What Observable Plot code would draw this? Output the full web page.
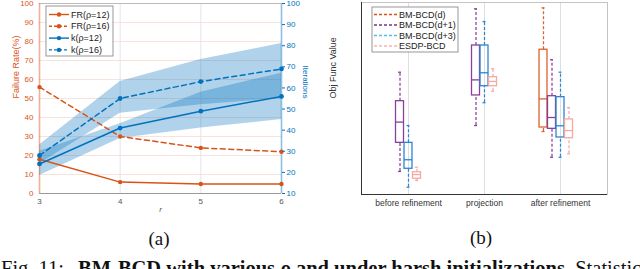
<!DOCTYPE html>
<html><head><meta charset="utf-8">
<script src="https://cdn.jsdelivr.net/npm/d3@7"></script>
<script src="https://cdn.jsdelivr.net/npm/@observablehq/plot@0.6"></script>
<style>
html,body{margin:0;padding:0;background:#fff;}
#root{position:relative;width:640px;height:269px;overflow:hidden;background:#fff;}
.panel{position:absolute;top:0;}
.sub{position:absolute;width:60px;text-align:center;font-family:"Liberation Serif","Times New Roman",serif;font-size:19px;line-height:19px;color:#111;}
#caption{position:absolute;left:1px;top:258px;white-space:nowrap;font-family:"Liberation Serif","Times New Roman",serif;font-size:20.5px;line-height:20px;color:#111;}
#caption .lead{margin-right:14px;}
.legend{position:absolute;left:0;top:0;overflow:visible;}
</style></head><body>
<div id="root">
  <div id="pa" class="panel" style="left:0"></div>
  <div id="pb" class="panel" style="left:320px"></div>
  <div class="sub" style="left:129px;top:229px">(a)</div>
  <div class="sub" style="left:451px;top:228px">(b)</div>
  <div id="caption"><span class="lead">Fig. 11:</span><b>BM-BCD with various <i>ρ</i> and under harsh initializations.</b> Statistics of the objective</div>
</div>
<script>
// ---------- Panel (a) data ----------
const rValues = [3, 4, 5, 6];
const fr12 = [18, 6, 5, 5];
const fr16 = [56, 30, 24, 22];
const k12 = [24, 41, 49, 56];
const k12Lo = [18.5, 36, 41, 45];
const k12Hi = [30, 43, 58, 67];
const k16 = [28, 55, 63, 69];
const k16Lo = [24, 48, 52, 55];
const k16Hi = [33, 63, 73.5, 81];
const failTicks = [0, 10, 20, 30, 40, 50, 60, 70, 80, 90, 100];
const iterTicks = [10, 20, 30, 40, 50, 60, 70, 80, 90, 100];
const legendA = ["FR(ρ=12)", "FR(ρ=16)", "k(ρ=12)", "k(ρ=16)"];

// ---------- Panel (b) data ----------
const stages = ["before refinement", "projection", "after refinement"];
const methods = ["BM-BCD(d)", "BM-BCD(d+1)", "BM-BCD(d+3)", "ESDP-BCD"];
// [lower whisker, q1, median, q3, upper whisker] per stage; null = not drawn
const bmD  = [null, null, [32.8, 34.9, 49.8, 75.4, 97.2]];
const bmD1 = [[12.0, 26.9, 37.7, 48.6, 63.7], [35.9, 51.6, 59.7, 77.6, 96.7], [19.4, 34.2, 40.1, 51.2, 70.2]];
const bmD3 = [[3.8, 13.4, 18.1, 26.9, 35.9], [47.8, 56.4, 63.4, 77.6, 90.1], [19.4, 29.7, 35.8, 50.7, 63.7]];
const esdp = [[7.3, 8.2, 10.4, 11.6, 14.2], [53.8, 56.4, 58.9, 61.1, 65.5], [21.2, 29.3, 33.3, 39.1, 45.2]];

const orange = "#D95319", blue = "#0072BD";
const font = '"Liberation Sans", Arial, Helvetica, sans-serif';

// ---------- Panel (a) ----------
const rowsA = rValues.map((r, i) => ({r, fr12: fr12[i], fr16: fr16[i], k12: k12[i], k12Lo: k12Lo[i], k12Hi: k12Hi[i], k16: k16[i], k16Lo: k16Lo[i], k16Hi: k16Hi[i]}));
const toLeft = it => (it - 10) / 0.9; // iterations axis (10..100) onto failure-rate axis (0..100)

const plotA = Plot.plot({
  width: 320, height: 215,
  marginLeft: 39, marginRight: 39, marginTop: 3, marginBottom: 22,
  style: {fontFamily: font, fontSize: "8px", background: "transparent", overflow: "visible"},
  x: {domain: [3, 6]},
  y: {domain: [0, 100]},
  marks: [
    Plot.ruleY(failTicks.filter(t => t > 0 && t < 100), {stroke: "#f5dcd2", strokeWidth: 0.8}),
    Plot.ruleX([4, 5], {stroke: "#e2e2e2", strokeWidth: 0.9}),
    Plot.areaY(rowsA, {x: "r", y1: d => toLeft(d.k16Lo), y2: d => toLeft(d.k16Hi), fill: blue, fillOpacity: 0.31}),
    Plot.areaY(rowsA, {x: "r", y1: d => toLeft(d.k12Lo), y2: d => toLeft(d.k12Hi), fill: blue, fillOpacity: 0.31}),
    Plot.ruleY([100], {stroke: "#bcbcbc", strokeWidth: 1}),
    Plot.ruleY([0], {stroke: "#9a9a9a", strokeWidth: 1}),
    Plot.ruleX([3], {stroke: orange, strokeOpacity: 0.45, strokeWidth: 1.6}),
    Plot.ruleX([6], {stroke: blue, strokeOpacity: 0.45, strokeWidth: 1.6}),
    Plot.line(rowsA, {x: "r", y: "fr12", stroke: orange, strokeWidth: 1.5}),
    Plot.line(rowsA, {x: "r", y: "fr16", stroke: orange, strokeWidth: 1.5, strokeDasharray: "5,3.5"}),
    Plot.line(rowsA, {x: "r", y: d => toLeft(d.k12), stroke: blue, strokeWidth: 1.5}),
    Plot.line(rowsA, {x: "r", y: d => toLeft(d.k16), stroke: blue, strokeWidth: 1.5, strokeDasharray: "5,3.5"}),
    Plot.dot(rowsA, {x: "r", y: "fr12", fill: orange, r: 2.2}),
    Plot.dot(rowsA, {x: "r", y: "fr16", fill: orange, r: 2.2}),
    Plot.dot(rowsA, {x: "r", y: d => toLeft(d.k12), fill: blue, r: 2.4}),
    Plot.dot(rowsA, {x: "r", y: d => toLeft(d.k16), fill: blue, r: 2.4}),
    Plot.axisX(rValues, {tickSize: 0, tickPadding: 5, tickFormat: d => String(d), color: "#555", label: null}),
    Plot.axisY(failTicks, {anchor: "left", tickSize: 0, tickPadding: 6, tickFormat: d => String(d), color: orange, label: null}),
    Plot.axisY(iterTicks.map(toLeft), {anchor: "right", tickSize: 3, tickPadding: 2, tickFormat: d => String(Math.round(d * 0.9 + 10)), color: blue, label: null}),
    Plot.text(["Failure Rate(%)"], {text: d => d, frameAnchor: "left", dx: -23, rotate: -90, fill: orange, fontSize: 9}),
    Plot.text(["Iterations"], {text: d => d, frameAnchor: "right", dx: 24, rotate: 90, fill: blue, fontSize: 8}),
    Plot.text(["r"], {text: d => d, frameAnchor: "bottom", dy: 18, fill: "#555", fontStyle: "italic", fontSize: 8})
  ]
});
document.getElementById("pa").appendChild(plotA);

// ---------- Panel (b) ----------
const boxColors = ["#E0602A", "#8A3F9C", "#2A86D4", "#F6A9A3"];
const boxSeries = [bmD, bmD1, bmD3, esdp];
const boxOffsets = [-17, -8.5, 0, 8.5];

function boxMarks(stats, color, dx) {
  const rows = stages.map((s, i) => stats[i] && {stage: s, lo: stats[i][0], q1: stats[i][1], med: stats[i][2], q3: stats[i][3], hi: stats[i][4]}).filter(Boolean);
  const w = 1.25;
  return [
    Plot.ruleX(rows, {x: "stage", y1: "lo", y2: "q1", stroke: color, strokeWidth: w, strokeDasharray: "3,2", dx}),
    Plot.ruleX(rows, {x: "stage", y1: "q3", y2: "hi", stroke: color, strokeWidth: w, strokeDasharray: "3,2", dx}),
    Plot.tickY(rows, {x: "stage", y: "lo", stroke: color, strokeWidth: w, dx, insetLeft: 2.5, insetRight: 2.5}),
    Plot.tickY(rows, {x: "stage", y: "hi", stroke: color, strokeWidth: w, dx, insetLeft: 2.5, insetRight: 2.5}),
    Plot.barY(rows, {x: "stage", y1: "q1", y2: "q3", fill: "none", stroke: color, strokeWidth: 1.3, dx}),
    Plot.tickY(rows, {x: "stage", y: "med", stroke: color, strokeWidth: 1.3, dx})
  ];
}

const plotB = Plot.plot({
  width: 320, height: 215,
  marginLeft: 41, marginRight: 33, marginTop: 2, marginBottom: 21,
  style: {fontFamily: font, fontSize: "8.5px", background: "transparent", overflow: "visible"},
  x: {domain: stages, paddingInner: 0.895, paddingOuter: 0.555},
  y: {domain: [0, 100], axis: null},
  marks: [
    Plot.ruleX(stages, {stroke: "#dedede", strokeWidth: 1}),
    Plot.frame({stroke: "#c4c4c4"}),
    ...boxSeries.flatMap((s, i) => boxMarks(s, boxColors[i], boxOffsets[i])),
    Plot.ruleY([0], {stroke: "#333", strokeWidth: 1}),
    Plot.frame({anchor: "left", stroke: "#333"}),
    Plot.axisX({tickSize: 0, tickPadding: 5, color: "#333", label: null}),
    Plot.text(["Obj Func Value"], {text: d => d, frameAnchor: "left", dx: -28, rotate: -90, fill: "#333", fontSize: 9})
  ]
});
document.getElementById("pb").appendChild(plotB);

// ---------- Legends ----------
const NS = "http://www.w3.org/2000/svg";
function el(tag, attrs, parent) {
  const e = document.createElementNS(NS, tag);
  for (const k in attrs) e.setAttribute(k, attrs[k]);
  parent.appendChild(e);
  return e;
}
function legend(parentId, box, labels, colors, dashes, dots, rows, lineX, textX) {
  const svg = el("svg", {class: "legend", width: 320, height: 215}, document.getElementById(parentId));
  svg.style.position = "absolute";
  el("rect", {x: box[0], y: box[1], width: box[2], height: box[3], fill: "#fff", stroke: "#8c8c8c", "stroke-width": 0.9}, svg);
  labels.forEach((lab, i) => {
    const y = rows[i];
    el("line", {x1: lineX[0], x2: lineX[1], y1: y, y2: y, stroke: colors[i], "stroke-width": 1.4, "stroke-dasharray": dashes[i]}, svg);
    if (dots) el("circle", {cx: (lineX[0] + lineX[1]) / 2, cy: y, r: 2.2, fill: colors[i]}, svg);
    const t = el("text", {x: textX, y: y, dy: "0.35em", fill: "#222", "font-size": 9, "font-family": font}, svg);
    t.textContent = lab;
  });
}
legend("pa", [46, 6, 67, 50], legendA, [orange, orange, blue, blue], ["none", "3,2", "none", "3,2"], true,
  [14.5, 26.3, 38.1, 49.9], [49, 69], 71);
legend("pb", [52, 7, 86, 45], methods, ["#D95319", "#7E2F8E", "#4DBEEE", "#F8B4AE"], ["3,2", "3,2", "3,2", "3,2"], false,
  [14.5, 25, 35.5, 46], [54, 77], 79);
</script>
</body></html>
